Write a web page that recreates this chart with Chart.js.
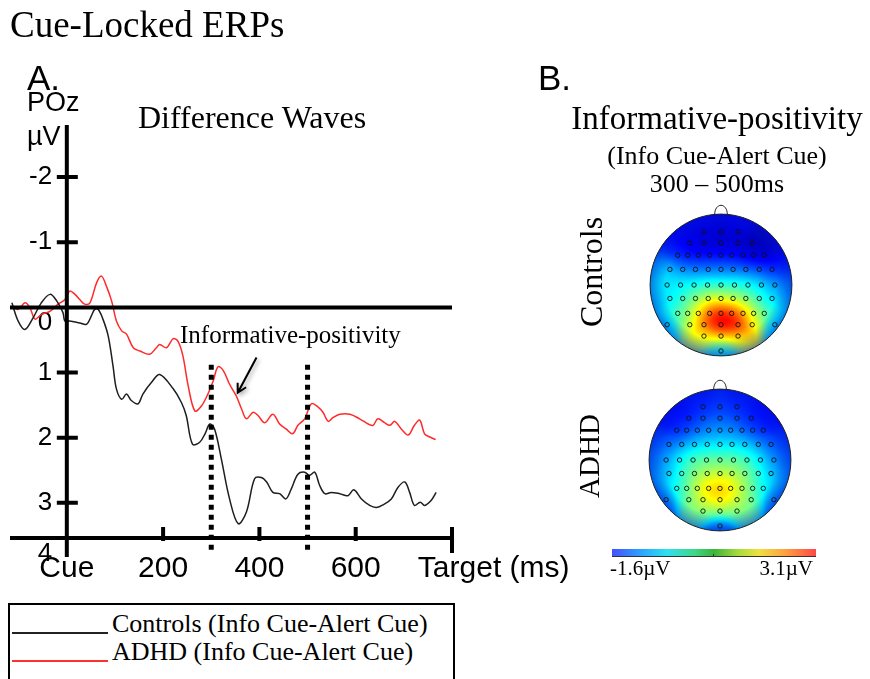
<!DOCTYPE html>
<html>
<head>
<meta charset="utf-8">
<script src="https://cdn.jsdelivr.net/npm/chart.js@4.4.0/dist/chart.umd.min.js"></script>
<style>
  body { margin: 0; width: 870px; height: 679px; background: #fff; position: relative; overflow: hidden; }
  .t { position: absolute; white-space: nowrap; color: #000; line-height: 1; }
  .serif { font-family: "Liberation Serif", serif; }
  .sans { font-family: "Liberation Sans", Arial, sans-serif; }
  .rot { transform: translate(-50%, -50%) rotate(-90deg); }
  canvas { position: absolute; }
</style>
</head>
<body>
<canvas id="erp" width="600" height="600" style="left:0;top:0"></canvas>
<canvas id="topoControls" width="180" height="180" style="left:631px;top:195px"></canvas>
<canvas id="topoAdhd" width="180" height="180" style="left:630px;top:370px"></canvas>

<div class="t serif" style="left:10px;top:6px;font-size:37px">Cue-Locked ERPs</div>
<div class="t sans" style="left:27px;top:60px;font-size:35px">A.</div>
<div class="t sans" style="left:538px;top:60px;font-size:35px">B.</div>
<div class="t sans" style="left:27px;top:89px;font-size:27px">POz</div>
<div class="t sans" style="left:27px;top:123px;font-size:27px">µV</div>
<div class="t serif" style="left:138px;top:101px;font-size:32px">Difference Waves</div>
<div class="t serif" style="left:180px;top:322px;font-size:25px">Informative-positivity</div>

<div class="t serif" style="left:567px;width:300px;text-align:center;top:102px;font-size:33px">Informative-positivity</div>
<div class="t serif" style="left:567px;width:300px;text-align:center;top:143px;font-size:26px">(Info Cue-Alert Cue)</div>
<div class="t serif" style="left:567px;width:300px;text-align:center;top:171px;font-size:26px">300 – 500ms</div>
<div class="t serif rot" style="left:591px;top:272px;font-size:32px">Controls</div>
<div class="t serif rot" style="left:589px;top:456px;font-size:29px">ADHD</div>

<div style="position:absolute;left:612px;top:549px;width:204px;height:7px;border-bottom:1px solid #333;
  background:linear-gradient(to right,#4650ff 0%,#2aa8ff 15%,#2ee0f0 27%,#3ed88a 40%,#3cb43c 50%,#a8dc3c 62%,#f0e040 72%,#ffa040 85%,#ff4848 100%)"></div>
<div style="position:absolute;left:713px;top:554px;width:1px;height:3px;background:#333"></div>
<div class="t serif" style="left:610px;top:558px;font-size:21px">-1.6µV</div>
<div class="t serif" style="right:57px;top:558px;font-size:21px">3.1µV</div>

<div style="position:absolute;left:8px;top:603px;width:443px;height:100px;border:2px solid #000"></div>
<div style="position:absolute;left:12px;top:632px;width:96px;height:1.5px;background:#222"></div>
<div style="position:absolute;left:12px;top:660px;width:96px;height:1.5px;background:#ff3030"></div>
<div class="t serif" style="left:112px;top:611px;font-size:26px">Controls (Info Cue-Alert Cue)</div>
<div class="t serif" style="left:112px;top:639px;font-size:26px">ADHD (Info Cue-Alert Cue)</div>

<script>
// difference waves at POz (ms after cue, microvolts; positive plotted downward)
var controlsMs = [-114,-101,-87,-70,-53,-35,-21,-8,-4,6,27,41,51,58,65,75,86,96,103,114,124,134,148,158,176,193,221,238,248,261,276,287,297,307,321,338,356,373,390,404,415,428,442,455,466,480,494,504,515,525,536,549,567,584,596,612,629,643,657,674,688,702,712,722,734,743,757,767];
var controlsUv = [-0.07,0.21,0.34,0.16,-0.07,-0.2,-0.1,0.08,0.21,0.21,0.24,0.26,0.13,0.03,0.03,0.18,0.44,0.9,1.25,1.41,1.33,1.43,1.48,1.33,1.15,1.03,1.25,1.46,1.66,2.1,2.07,1.94,1.79,1.87,2.33,2.94,3.32,3.14,2.63,2.61,2.68,2.84,2.86,2.94,2.79,2.56,2.53,2.58,2.53,2.73,2.86,2.84,2.86,2.89,2.8,2.94,3.04,3.07,3.03,2.94,2.76,2.68,2.84,3.04,2.99,3.04,2.96,2.84];
var adhdMs = [-115,-101,-87,-77,-66,-53,-35,-18,-4,6,17,27,37,48,62,72,82,93,103,114,124,138,152,172,186,193,207,221,231,241,252,266,280,293,304,314,325,338,352,363,373,387,397,411,428,442,456,469,480,494,508,522,532,543,553,567,588,608,626,636,646,660,671,681,695,709,722,733,743,754,766];
var adhdUv = [-0.02,0.03,-0.07,0.0,0.18,0.11,0.06,-0.05,-0.12,-0.25,-0.2,-0.12,-0.05,-0.07,-0.38,-0.48,-0.33,-0.1,0.21,0.36,0.41,0.62,0.67,0.72,0.62,0.57,0.62,0.48,0.52,0.74,1.2,1.59,1.51,1.33,1.13,0.91,0.97,1.18,1.36,1.56,1.71,1.61,1.66,1.77,1.64,1.79,1.87,1.94,1.81,1.71,1.48,1.53,1.61,1.75,1.69,1.64,1.64,1.71,1.79,1.81,1.71,1.77,1.81,1.75,1.87,1.96,1.81,1.73,1.94,1.99,2.03];

var xTicks = [0, 200, 400, 600, 800];
var xTickLabels = ['Cue', '200', '400', '600', '          Target (ms)'];
var yTicks = [-2, -1, 0, 1, 2, 3];
var xMin = -118, xMax = 800;
var yMin = -2.8, yMax = 3.54;   // the axis line sits a bit above 4, labelled "4" as in the figure
var windowMs = [300, 500];
var arrowFrom = [394, 0.77], arrowTo = [355, 1.31];

// topographic maps: electrode rows (head units, nose up) and mean amplitude 300-500ms
var electrodeY = [0.75, 0.59, 0.42, 0.22, 0, -0.19, -0.40, -0.56, -0.72, -0.93];
var electrodeX = [
  [-0.24, 0, 0.24],
  [-0.44, -0.24, 0, 0.24, 0.44],
  [-0.61, -0.47, -0.32, -0.16, 0, 0.15, 0.31, 0.46, 0.61],
  [-0.72, -0.54, -0.36, -0.18, 0, 0.17, 0.35, 0.54, 0.72],
  [-0.76, -0.57, -0.38, -0.19, 0, 0.19, 0.38, 0.57, 0.76],
  [-0.72, -0.54, -0.36, -0.18, 0, 0.17, 0.35, 0.54, 0.72],
  [-0.61, -0.47, -0.32, -0.16, 0, 0.15, 0.31, 0.46, 0.61],
  [-0.76, -0.44, -0.24, 0, 0.24, 0.44, 0.76],
  [-0.24, 0, 0.24],
  [0]
];
var controlsTopo = [
  [-1.1, -1.2, -1.1],
  [-1.1, -1.3, -1.3, -1.3, -1.4],
  [-0.9, -1.0, -1.0, -1.0, -1.0, -1.0, -1.1, -1.2, -1.3],
  [-0.1, -0.3, -0.4, -0.4, -0.4, -0.4, -0.5, -0.6, -0.9],
  [0.1, 0.1, 0.2, 0.3, 0.3, 0.3, 0.2, 0.0, -0.4],
  [0.0, 0.4, 0.8, 1.2, 1.2, 1.0, 0.8, 0.4, 0.0],
  [0.4, 0.8, 1.4, 2.2, 2.5, 2.3, 1.7, 1.0, 0.5],
  [0.0, 1.0, 2.4, 3.0, 3.0, 1.4, 0.0],
  [1.0, 1.3, 1.1],
  [0.1]
];
var adhdTopo = [
  [-0.9, -0.8, -0.9],
  [-1.0, -0.7, -0.6, -0.7, -1.0],
  [-1.0, -0.7, -0.5, -0.4, -0.3, -0.4, -0.5, -0.7, -1.0],
  [-0.6, -0.2, 0.0, 0.1, 0.1, 0.1, 0.0, -0.2, -0.7],
  [-0.4, 0.2, 0.5, 0.6, 0.6, 0.6, 0.4, 0.1, -0.5],
  [-0.2, 0.4, 0.8, 1.0, 1.1, 1.0, 0.8, 0.4, -0.2],
  [0.1, 0.6, 1.2, 1.6, 1.7, 1.5, 1.0, 0.6, 0.0],
  [-0.4, 0.6, 1.3, 1.5, 1.2, 0.6, -0.4],
  [0.6, 0.8, 0.6],
  [-0.6]
];
var colorMin = -1.6, colorMax = 3.1;

function toPoints(xs, ys) {
  return xs.map(function(x, i) { return {x: x, y: ys[i]}; });
}

// axes, zero line, analysis window and arrow drawn over the waves
var erpAxes = {
  id: 'erpAxes',
  afterDatasetsDraw: function(chart) {
    var ctx = chart.ctx, xs = chart.scales.x, ys = chart.scales.y, area = chart.chartArea;
    var x0 = xs.getPixelForValue(0), y0 = ys.getPixelForValue(0);
    ctx.save();
    ctx.strokeStyle = '#000';
    ctx.lineWidth = 4;
    ctx.beginPath();
    ctx.moveTo(area.left, y0); ctx.lineTo(xs.getPixelForValue(xMax), y0);
    ctx.moveTo(area.left, area.bottom); ctx.lineTo(xs.getPixelForValue(xMax) + 2, area.bottom);
    ctx.moveTo(x0, area.top); ctx.lineTo(x0, area.bottom + 19);
    yTicks.forEach(function(v) {
      if (v === 0) return;
      var p = ys.getPixelForValue(v);
      ctx.moveTo(x0 - 10, p); ctx.lineTo(x0 + 11, p);
    });
    xTicks.forEach(function(v, i) {
      if (i === 0) return;
      var p = xs.getPixelForValue(v);
      ctx.moveTo(p, area.bottom - 11);
      ctx.lineTo(p, area.bottom + (i === xTicks.length - 1 ? 15 : 3));
    });
    ctx.stroke();

    ctx.lineWidth = 5;
    ctx.setLineDash([5, 5]);
    ctx.beginPath();
    windowMs.forEach(function(ms) {
      var p = xs.getPixelForValue(ms);
      ctx.moveTo(p, ys.getPixelForValue(0.88));
      ctx.lineTo(p, area.bottom + 15);
    });
    ctx.stroke();
    ctx.setLineDash([]);

    var ax = xs.getPixelForValue(arrowFrom[0]), ay = ys.getPixelForValue(arrowFrom[1]);
    var bx = xs.getPixelForValue(arrowTo[0]), by = ys.getPixelForValue(arrowTo[1]);
    var ang = Math.atan2(by - ay, bx - ax);
    ctx.shadowColor = 'rgba(0,0,0,0.35)';
    ctx.shadowBlur = 4; ctx.shadowOffsetX = 2; ctx.shadowOffsetY = 2;
    ctx.lineWidth = 2;
    ctx.beginPath();
    ctx.moveTo(ax, ay); ctx.lineTo(bx, by);
    ctx.moveTo(bx - 10 * Math.cos(ang - 0.5), by - 10 * Math.sin(ang - 0.5));
    ctx.lineTo(bx, by);
    ctx.lineTo(bx - 10 * Math.cos(ang + 0.5), by - 10 * Math.sin(ang + 0.5));
    ctx.stroke();
    ctx.restore();
  }
};

new Chart(document.getElementById('erp'), {
  type: 'line',
  data: {
    datasets: [
      {label: 'Controls (Info Cue-Alert Cue)', data: toPoints(controlsMs, controlsUv),
       borderColor: '#1e1e1e', borderWidth: 1.5, pointRadius: 0, tension: 0.35},
      {label: 'ADHD (Info Cue-Alert Cue)', data: toPoints(adhdMs, adhdUv),
       borderColor: '#ff2a2a', borderWidth: 1.5, pointRadius: 0, tension: 0.35}
    ]
  },
  options: {
    responsive: false,
    animation: false,
    events: [],
    layout: {padding: {left: 10, right: 148, top: 125, bottom: 0}},
    plugins: {legend: {display: false}, tooltip: {enabled: false}},
    scales: {
      x: {
        type: 'linear', min: xMin, max: xMax,
        grid: {display: false}, border: {display: false},
        afterBuildTicks: function(s) { s.ticks = xTicks.map(function(v) { return {value: v}; }); },
        afterFit: function(s) { s.height = 62; },
        ticks: {
          autoSkip: false, maxRotation: 0, padding: 5, color: '#000',
          font: {family: '"Liberation Sans", Arial, sans-serif', size: 30},
          callback: function(v) { return xTickLabels[xTicks.indexOf(v)]; }
        }
      },
      y: {
        type: 'linear', reverse: true, min: yMin, max: yMax,
        grid: {display: false}, border: {display: false},
        afterBuildTicks: function(s) {
          s.ticks = yTicks.concat([yMax]).map(function(v) { return {value: v}; });
        },
        afterFit: function(s) { s.width = 0; },
        ticks: {
          autoSkip: false, mirror: true, crossAlign: 'far', padding: 19, color: '#000',
          font: {family: '"Liberation Sans", Arial, sans-serif', size: 26},
          callback: function(v) {
            if (v === 0) return ['', '0'];
            if (v === yMax) return ['', '4'];
            return String(v);
          }
        }
      }
    }
  },
  plugins: [erpAxes]
});

function jet(f) {
  f = Math.max(0, Math.min(1, f));
  function c(o) { return Math.round(255 * Math.max(0, Math.min(1, 1.5 - Math.abs(4 * f - o)))); }
  return [c(3), c(2), c(1)];
}

// smoothed scalp map under the electrode markers
var scalpMap = {
  id: 'scalpMap',
  beforeDatasetsDraw: function(chart) {
    var ctx = chart.ctx, xs = chart.scales.x, ys = chart.scales.y;
    var pts = chart.data.datasets[0].data;
    var cx = xs.getPixelForValue(0), cy = ys.getPixelForValue(0);
    var r = xs.getPixelForValue(1) - cx;
    var n = Math.ceil(2 * r) + 2;
    var off = document.createElement('canvas');
    off.width = n; off.height = n;
    var octx = off.getContext('2d');
    var img = octx.createImageData(n, n);
    var k2 = 1 / (2 * 0.12 * 0.12);
    for (var j = 0; j < n; j++) {
      for (var i = 0; i < n; i++) {
        var u = (i + 0.5 - n / 2) / r, w = (n / 2 - j - 0.5) / r;
        if (u * u + w * w > 1.02) continue;
        var num = 0, den = 0;
        for (var k = 0; k < pts.length; k++) {
          var dx = u - pts[k].x, dy = w - pts[k].y;
          var wt = Math.exp(-(dx * dx + dy * dy) * k2) + 1e-12;
          num += wt * pts[k].v; den += wt;
        }
        var col = jet((num / den - colorMin) / (colorMax - colorMin));
        var idx = 4 * (j * n + i);
        img.data[idx] = col[0]; img.data[idx + 1] = col[1]; img.data[idx + 2] = col[2]; img.data[idx + 3] = 255;
      }
    }
    octx.putImageData(img, 0, 0);
    ctx.save();
    ctx.beginPath();
    ctx.arc(cx, cy, r, 0, 2 * Math.PI);
    ctx.clip();
    ctx.drawImage(off, cx - n / 2, cy - n / 2);
    var rim = ctx.createRadialGradient(cx, cy, 0.78 * r, cx, cy, r);
    rim.addColorStop(0, 'rgba(0,20,210,0)');
    rim.addColorStop(1, 'rgba(0,20,210,0.5)');
    ctx.fillStyle = rim;
    ctx.fillRect(cx - r, cy - r, 2 * r, 2 * r);
    ctx.restore();

    ctx.save();
    ctx.strokeStyle = '#222';
    ctx.lineWidth = 1;
    ctx.beginPath();
    ctx.arc(cx, cy, r, 0, 2 * Math.PI);
    ctx.stroke();
    ctx.beginPath();
    ctx.moveTo(cx - 0.09 * r, cy - r + 1);
    ctx.bezierCurveTo(cx - 0.09 * r, cy - 1.17 * r, cx + 0.09 * r, cy - 1.17 * r, cx + 0.09 * r, cy - r + 1);
    ctx.stroke();
    ctx.restore();
  }
};

function drawTopo(id, values) {
  var pts = [];
  electrodeX.forEach(function(row, ri) {
    row.forEach(function(x, i) { pts.push({x: x, y: electrodeY[ri], v: values[ri][i]}); });
  });
  new Chart(document.getElementById(id), {
    type: 'scatter',
    data: {datasets: [{data: pts, pointRadius: 2.2, borderWidth: 0.9, borderColor: '#111', backgroundColor: 'rgba(0,0,0,0)'}]},
    options: {
      responsive: false,
      animation: false,
      events: [],
      layout: {padding: 0},
      plugins: {legend: {display: false}, tooltip: {enabled: false}},
      scales: {
        x: {type: 'linear', display: false, min: -1.2, max: 1.2},
        y: {type: 'linear', display: false, min: -1.2, max: 1.2}
      }
    },
    plugins: [scalpMap]
  });
}

drawTopo('topoControls', controlsTopo);
drawTopo('topoAdhd', adhdTopo);
</script>
</body>
</html>
